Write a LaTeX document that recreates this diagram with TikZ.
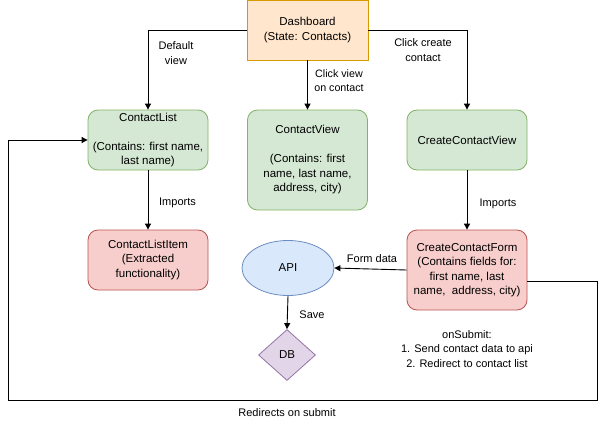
\documentclass[tikz,border=0pt]{standalone}
\usepackage{fontspec}
\setmainfont{Liberation Sans}
\usetikzlibrary{arrows.meta,shapes.geometric,positioning}

\definecolor{orangefill}{HTML}{FFE6CC}
\definecolor{orangeline}{HTML}{D79B00}
\definecolor{greenfill}{HTML}{D5E8D4}
\definecolor{greenline}{HTML}{82B366}
\definecolor{redfill}{HTML}{F8CECC}
\definecolor{redline}{HTML}{B85450}
\definecolor{bluefill}{HTML}{DAE8FC}
\definecolor{blueline}{HTML}{6C8EBF}
\definecolor{purplefill}{HTML}{E1D5E7}
\definecolor{purpleline}{HTML}{9673A6}

\tikzset{
  x=1pt, y=-1pt,
  box/.style={draw, line width=0.8pt, align=center, inner sep=0pt,
    font=\fontsize{11.5}{14.5}\selectfont},
  state/.style={box, fill=orangefill, draw=orangeline,
    minimum width=121pt, minimum height=60pt},
  view/.style={box, rounded corners=10pt, fill=greenfill, draw=greenline,
    minimum width=120pt, minimum height=60pt},
  part/.style={box, rounded corners=10pt, fill=redfill, draw=redline,
    minimum width=120pt, minimum height=60pt},
  flow/.style={draw, line width=0.9pt, -{Triangle[length=6pt,width=6pt]}},
  lbl/.style={align=center, font=\fontsize{11}{14.5}\selectfont}
}

\begin{document}
\begin{tikzpicture}
  \useasboundingbox (0,0) rectangle (606,431);

  % Define nodes
  \node[state] (D) at (307.5,30) {Dashboard\\(State: Contacts)};
  \node[view] (CL) at (148,140) {ContactList\\[14.5pt](Contains: first name,\\last name)};
  \node[view, minimum height=100pt] (CV) at (307.5,160)
    {ContactView\\[14.5pt](Contains: first\\name, last name,\\address, city)};
  \node[view] (CCV) at (467,140) {CreateContactView};
  \node[part] (CLI) at (148,260) {ContactListItem\\(Extracted\\functionality)};
  \node[part, minimum height=80pt] (CCF) at (467,270)
    {CreateContactForm\\(Contains fields for:\\first name, last\\name,~ address, city)};
  \node[box, ellipse, fill=bluefill, draw=blueline,
    minimum width=92pt, minimum height=55pt] (API) at (288,268) {API};
  \node[box, diamond, fill=purplefill, draw=purpleline, aspect=1.1,
    minimum width=57pt, minimum height=51pt] (DB) at (287,355) {DB};
  \coordinate (R1) at (597,281);
  \coordinate (R2) at (597,400);
  \coordinate (R3) at (8,400);
  \coordinate (R4) at (8,140);

  % Connect the nodes
  \draw[flow] (D.west) -| (CL.north);
  \draw[flow] (D.south) -- (CV.north);
  \draw[flow] (D.east) -| (CCV.north);
  \draw[flow] (CL.south) -- (CLI.north);
  \draw[flow] (CCV.south) -- (CCF.north);
  \draw[flow] (CCF.west) -- (API.east);
  \draw[flow] (API.south) -- (DB.north);
  \draw[flow] (CCF.east |- R1) -- (R1) -- (R2) -- (R3) -- (R4) -- (CL.west);

  % Labels
  \node[lbl] at (176,53) {Default\\view};
  \node[lbl, font=\fontsize{10.7}{14}\selectfont] at (339,81) {Click view\\on contact};
  \node[lbl] at (423,50) {Click create\\contact};
  \node[lbl] at (177.5,203) {Imports};
  \node[lbl] at (498,204) {Imports};
  \node[lbl] at (372,259) {Form data};
  \node[lbl] at (312,315) {Save};
  \node[lbl] (OS) at (467,349) {onSubmit:\\1. Send contact data to api\\2. Redirect to contact list};
  \node[lbl] at (287,413) {Redirects on submit};
\end{tikzpicture}
\end{document}
